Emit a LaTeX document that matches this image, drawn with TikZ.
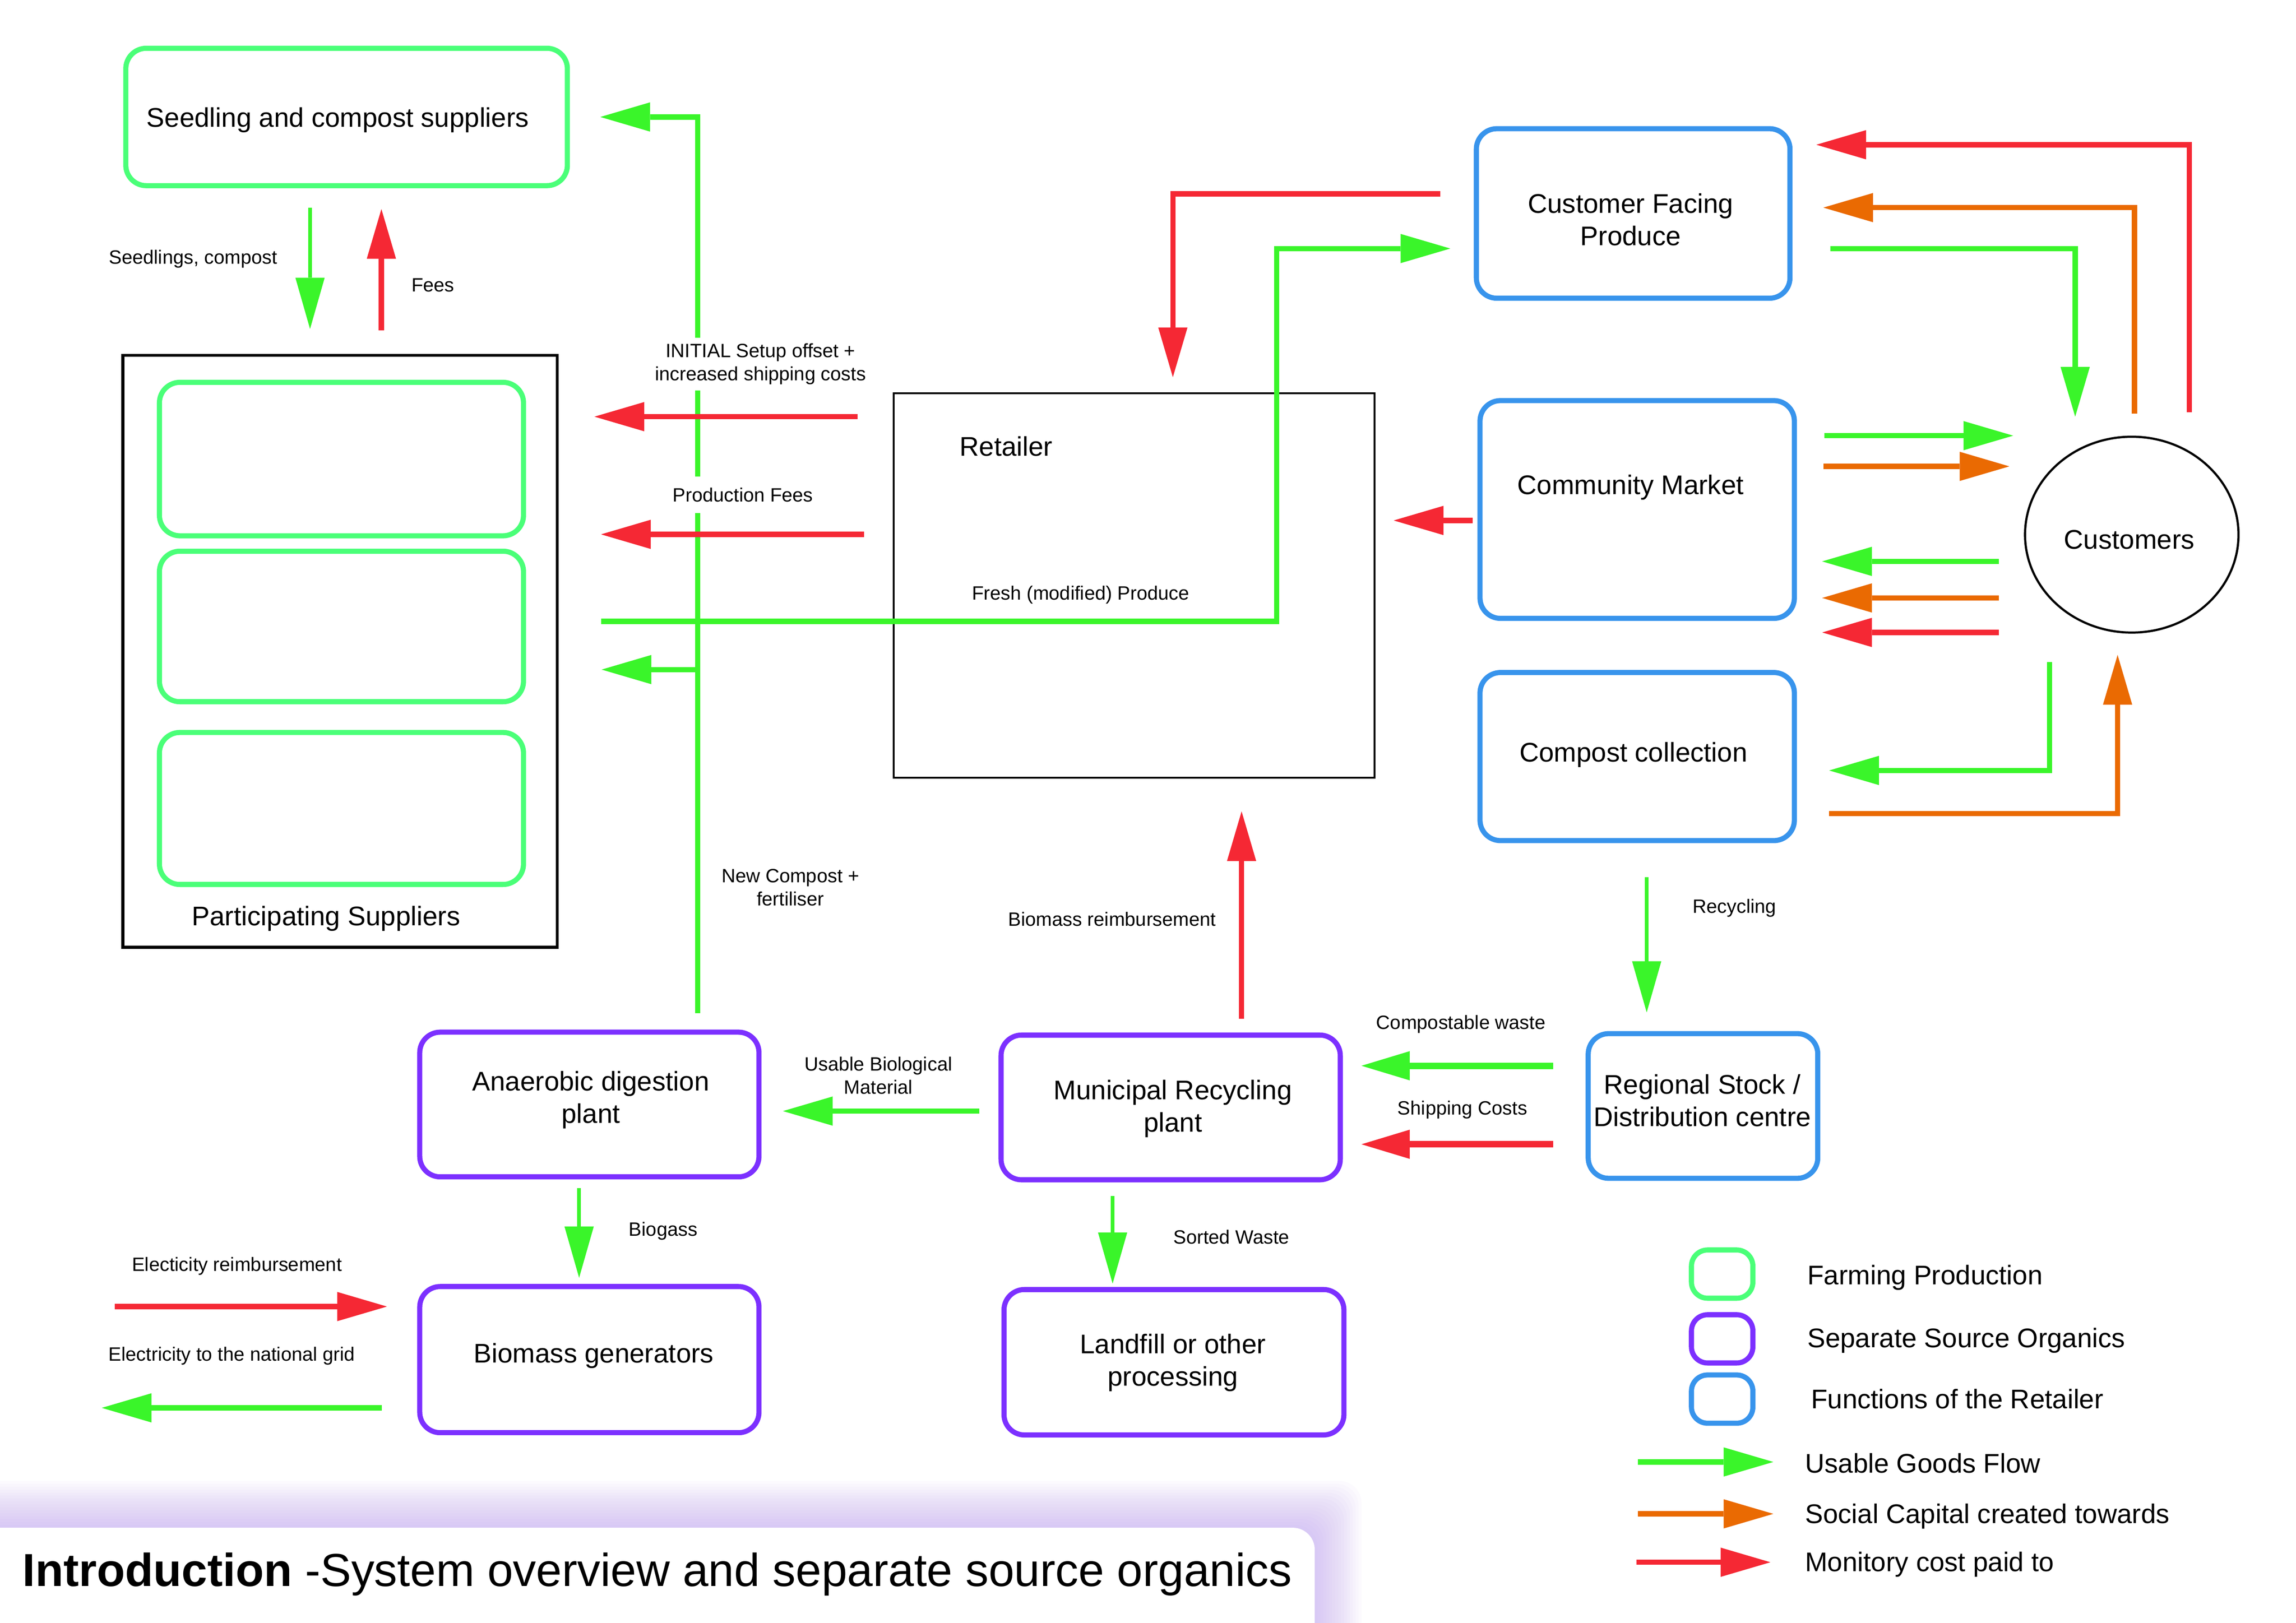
\documentclass[tikz,border=0pt]{standalone}
\usepackage{fontspec}
\setmainfont{Liberation Sans}
\usetikzlibrary{arrows.meta,shapes.geometric}
\definecolor{farmG}{RGB}{74,255,120}
\definecolor{flowG}{RGB}{58,245,42}
\definecolor{costR}{RGB}{245,40,52}
\definecolor{socO}{RGB}{234,106,2}
\definecolor{retB}{RGB}{56,148,236}
\definecolor{sepP}{RGB}{124,48,255}
\definecolor{glowP}{RGB}{190,160,245}
\begin{document}
\begin{tikzpicture}[x=0.02cm,y=-0.02cm,
  box/.style={draw=#1, line width=0.07cm, rounded corners=0.28cm, inner sep=0pt},
  big/.style={font=\fontsize{10.5}{12.6}\selectfont, align=center, inner sep=0pt, yshift=-0.045cm},
  small/.style={font=\fontsize{7.5}{8.9}\selectfont, align=center, inner sep=1.5pt, yshift=-0.04cm},
  flow/.style={draw=#1, line width=0.072cm, -{Triangle[length=0.68cm,width=0.4cm,line width=0pt]}},
  thinflow/.style={draw=#1, line width=0.052cm, -{Triangle[length=0.7cm,width=0.4cm,line width=0pt]}},
  thickflow/.style={draw=#1, line width=0.088cm, -{Triangle[length=0.66cm,width=0.4cm,line width=0pt]}}
]
\useasboundingbox (0,0) rectangle (1570,1110);
\fill[white] (0,0) rectangle (1570,1110);

% ---------- title bar ----------
\foreach \i in {1,...,16}{
  \fill[glowP, opacity=0.045, rounded corners=0.3cm] (-20,{1045-2*\i}) rectangle ({899+2*\i},1130);
}
\fill[white, rounded corners=0.3cm] (-20,1045) rectangle (899,1130);
\node[anchor=base west, inner sep=0pt, font=\fontsize{18}{21}\selectfont] (title) at (15,1085)
  {\textbf{Introduction} -System overview and separate source organics};

% ---------- boxes ----------
\node[box=farmG, minimum width=6.04cm, minimum height=1.88cm] (seed) at (237,80) {};
\node[big] (seedT) at (231,80) {Seedling and compost suppliers};

\node[draw=black, line width=0.04cm, minimum width=5.94cm, minimum height=8.1cm, inner sep=0pt] (part) at (232.5,445.5) {};
\node[box=farmG, minimum width=4.98cm, minimum height=2.1cm] (p1) at (233.5,314) {};
\node[box=farmG, minimum width=4.98cm, minimum height=2.06cm] (p2) at (233.5,428.5) {};
\node[box=farmG, minimum width=4.98cm, minimum height=2.08cm] (p3) at (233.5,553) {};
\node[big] (partT) at (223,626) {Participating Suppliers};

\node[draw=black, line width=0.025cm, minimum width=6.58cm, minimum height=5.26cm, inner sep=0pt] (ret) at (775.5,400.5) {};
\node[big] (retT) at (688,303) {Retailer};

\node[box=retB, minimum width=4.29cm, minimum height=2.32cm] (cfp) at (1116.75,146) {};
\node[big] (cfpT) at (1115,148) {Customer Facing\\Produce};
\node[box=retB, minimum width=4.3cm, minimum height=2.98cm] (cm) at (1119.5,348.5) {};
\node[big] (cmT) at (1115,331) {Community Market};
\node[box=retB, minimum width=4.3cm, minimum height=2.3cm] (cc) at (1119.5,517.5) {};
\node[big] (ccT) at (1117,514) {Compost collection};
\node[ellipse, draw=black, line width=0.03cm, minimum width=2.92cm, minimum height=2.68cm, inner sep=0pt] (cust) at (1457.7,365.7) {};
\node[big] (custT) at (1456,367) {Customers};

\node[box=retB, minimum width=3.14cm, minimum height=1.98cm] (reg) at (1164.5,756.5) {};
\node[big] (regT) at (1164,750.5) {Regional Stock /\\Distribution centre};
\node[box=sepP, minimum width=4.64cm, minimum height=1.98cm] (mun) at (800.5,757.5) {};
\node[big] (munT) at (802,756) {Municipal Recycling\\plant};
\node[box=sepP, minimum width=4.64cm, minimum height=1.98cm] (ana) at (403,755.5) {};
\node[big] (anaT) at (404,750) {Anaerobic digestion\\plant};
\node[box=sepP, minimum width=4.64cm, minimum height=2.0cm] (bio) at (403,930) {};
\node[big] (bioT) at (406,925) {Biomass generators};
\node[box=sepP, minimum width=4.65cm, minimum height=1.99cm] (land) at (802.75,931.8) {};
\node[big] (landT) at (802,930) {Landfill or other\\processing};

% ---------- legend ----------
\node[box=farmG, rounded corners=0.22cm, minimum width=0.84cm, minimum height=0.66cm] (lg1) at (1177.6,871.5) {};
\node[box=sepP, rounded corners=0.22cm, minimum width=0.84cm, minimum height=0.66cm] (lg2) at (1177.6,915.8) {};
\node[box=retB, rounded corners=0.22cm, minimum width=0.84cm, minimum height=0.66cm] (lg3) at (1177.6,957) {};
\node[big, anchor=west] (lg1T) at (1235.5,871.5) {Farming Production};
\node[big, anchor=west] (lg2T) at (1235.5,914.7) {Separate Source Organics};
\node[big, anchor=west] (lg3T) at (1238,954.5) {Functions of the Retailer};
\coordinate (la1) at (1120,1000);   \coordinate (lb1) at (1212.6,1000);
\coordinate (la2) at (1120,1035.5); \coordinate (lb2) at (1212.6,1035.5);
\coordinate (la3) at (1119,1068.6); \coordinate (lb3) at (1210.6,1068.6);
\draw[flow=flowG] (la1) -- (lb1);
\draw[flow=socO] (la2) -- (lb2);
\draw[flow=costR] (la3) -- (lb3);
\node[big, anchor=west] (la1T) at (1234,998.6) {Usable Goods Flow};
\node[big, anchor=west] (la2T) at (1234,1035) {Social Capital created towards};
\node[big, anchor=west] (la3T) at (1234,1067.7) {Monitory cost paid to};

% ---------- connector end points ----------
\coordinate (sdA) at (212,142);    \coordinate (sdB) at (212,225);
\coordinate (feA) at (260.8,226);  \coordinate (feB) at (260.8,143);
\coordinate (ncA) at (477,693);    \coordinate (ncB) at (410.5,80);
\coordinate (brA) at (477,458);    \coordinate (brB) at (411.4,458);
\coordinate (inA) at (586.5,285);  \coordinate (inB) at (406.5,285);
\coordinate (pfA) at (591,365.5);  \coordinate (pfB) at (411,365.5);
\coordinate (frA) at (411,425);    \coordinate (frK) at (873,170);  \coordinate (frB) at (991.7,170);
\coordinate (rrA) at (985,132.6);  \coordinate (rrB) at (802,258);
\coordinate (cmA) at (1007,356);   \coordinate (cmB) at (953,356);
\coordinate (r1A) at (1497,282);   \coordinate (r1B) at (1242,99);
\coordinate (o1A) at (1459.5,283); \coordinate (o1B) at (1246.8,142);
\coordinate (g1A) at (1251.6,170); \coordinate (g1B) at (1419,285);
\coordinate (g2A) at (1247.5,298); \coordinate (g2B) at (1376.6,298);
\coordinate (o2A) at (1247,319);   \coordinate (o2B) at (1374,319);
\coordinate (g3A) at (1366.7,384); \coordinate (g3B) at (1246,384);
\coordinate (o3A) at (1366.7,409); \coordinate (o3B) at (1246,409);
\coordinate (r3A) at (1366.7,432.6); \coordinate (r3B) at (1246,432.6);
\coordinate (g4A) at (1401.5,453); \coordinate (g4B) at (1250.8,527);
\coordinate (o4A) at (1250.8,556.5); \coordinate (o4B) at (1448,448);
\coordinate (rcA) at (1126,600);   \coordinate (rcB) at (1126,692.5);
\coordinate (cwA) at (1062,729);   \coordinate (cwB) at (931,729);
\coordinate (scA) at (1062,782.7); \coordinate (scB) at (931,782.7);
\coordinate (brmA) at (849,697);   \coordinate (brmB) at (849,555);
\coordinate (ubA) at (669.7,760);  \coordinate (ubB) at (535.4,760);
\coordinate (bgA) at (396,812.6);  \coordinate (bgB) at (396,874);
\coordinate (swA) at (760.8,818);  \coordinate (swB) at (760.8,878);
\coordinate (erA) at (78.5,893.7); \coordinate (erB) at (264.6,893.7);
\coordinate (egA) at (261,963);    \coordinate (egB) at (69.6,963);

% ---------- connectors ----------
\draw[thinflow=flowG] (sdA) -- (sdB);
\draw[flow=costR] (feA) -- (feB);
\draw[flow=flowG] (ncA) |- (ncB);
\draw[flow=flowG] (brA) -- (brB);
\draw[flow=flowG] (frA) -| (frK) -- (frB);
\draw[flow=costR] (inA) -- (inB);
\draw[flow=costR] (pfA) -- (pfB);
\draw[flow=costR] (rrA) -| (rrB);
\draw[flow=costR] (cmA) -- (cmB);
\draw[flow=costR] (r1A) |- (r1B);
\draw[flow=socO] (o1A) |- (o1B);
\draw[flow=flowG] (g1A) -| (g1B);
\draw[flow=flowG] (g2A) -- (g2B);
\draw[flow=socO] (o2A) -- (o2B);
\draw[flow=flowG] (g3A) -- (g3B);
\draw[flow=socO] (o3A) -- (o3B);
\draw[flow=costR] (r3A) -- (r3B);
\draw[flow=flowG] (g4A) |- (g4B);
\draw[flow=socO] (o4A) -| (o4B);
\draw[thinflow=flowG] (rcA) -- (rcB);
\draw[thickflow=flowG] (cwA) -- (cwB);
\draw[thickflow=costR] (scA) -- (scB);
\draw[flow=costR] (brmA) -- (brmB);
\draw[flow=flowG] (ubA) -- (ubB);
\draw[thinflow=flowG] (bgA) -- (bgB);
\draw[thinflow=flowG] (swA) -- (swB);
\draw[flow=costR] (erA) -- (erB);
\draw[flow=flowG] (egA) -- (egB);

% ---------- connector labels ----------
\node[small] (lSeed) at (132,175) {Seedlings, compost};
\node[small] (lFees) at (296,193) {Fees};
\node[small, fill=white, minimum height=0.72cm] (lInit) at (520,247) {INITIAL Setup offset +\\increased shipping costs};
\node[small, fill=white, minimum height=0.5cm] (lProd) at (508,336.5) {Production Fees};
\node[small] (lFresh) at (739,405) {Fresh (modified) Produce};
\node[small] (lNew) at (540.5,605) {New Compost +\\fertiliser};
\node[small] (lBioR) at (760.5,626.7) {Biomass reimbursement};
\node[small] (lRec) at (1186,619) {Recycling};
\node[small] (lComp) at (999,698.5) {Compostable waste};
\node[small] (lShip) at (1000,757) {Shipping Costs};
\node[small] (lUse) at (600.6,733.6) {Usable Biological\\Material};
\node[small] (lBiog) at (453.5,840) {Biogass};
\node[small] (lSort) at (842,844) {Sorted Waste};
\node[small] (lElR) at (162,864) {Electicity reimbursement};
\node[small] (lElG) at (158.5,925.6) {Electricity to the national grid};
\end{tikzpicture}
\end{document}
